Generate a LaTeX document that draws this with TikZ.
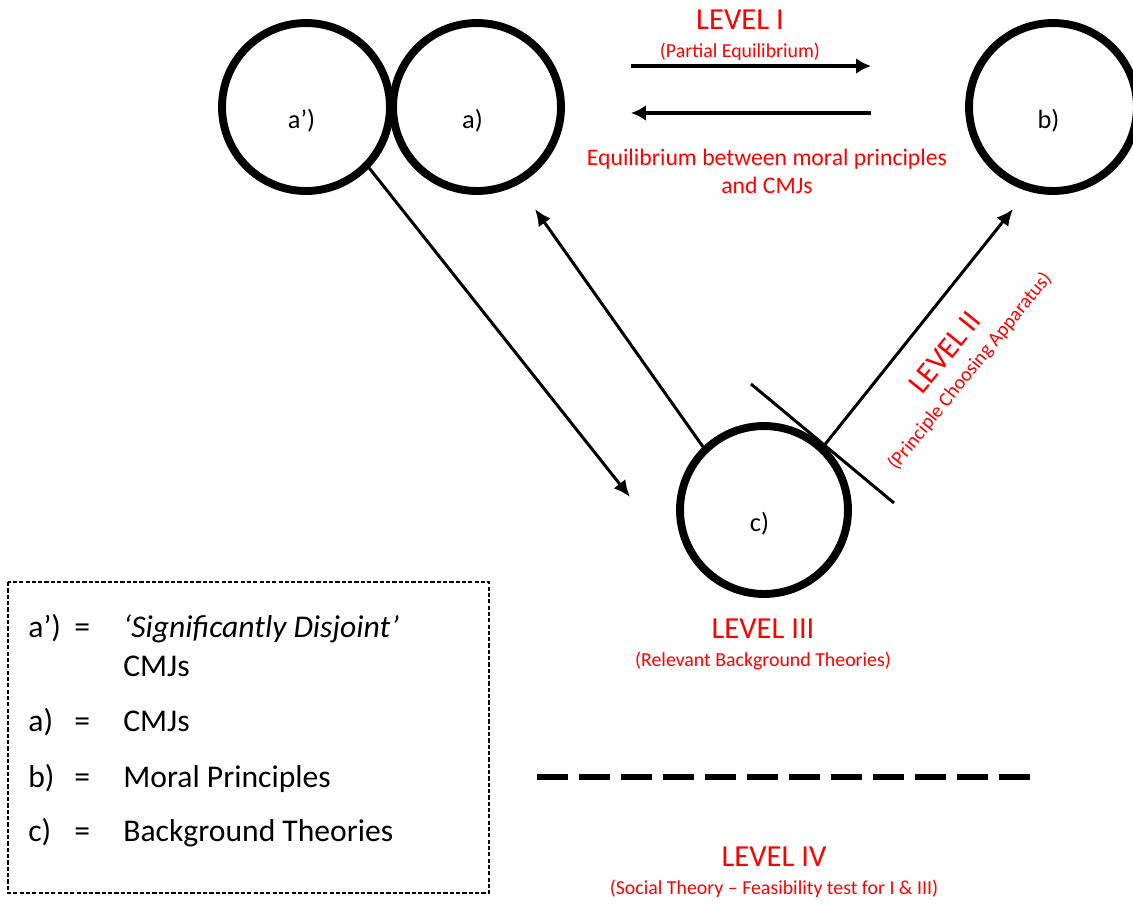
\documentclass[tikz,border=0pt]{standalone}
\usepackage{fontspec}
\setmainfont{Carlito}
\usetikzlibrary{arrows.meta}

\begin{document}
\begin{tikzpicture}[x=0.02cm,y=-0.02cm]
          \tikzstyle{ring}=[draw,circle,line width=4.5pt,minimum size=3.36cm,inner sep=0pt]
          \tikzstyle{ringlabel}=[font=\fontsize{15}{18}\selectfont,xshift=-0.09cm,yshift=-0.28cm]
          \tikzstyle{level}=[text=red,font=\fontsize{17.4}{20}\selectfont]
          \tikzstyle{sublevel}=[text=red,font=\fontsize{11.3}{13}\selectfont]
          \tikzstyle{note}=[text=red,align=center,font=\fontsize{13.5}{15.9}\selectfont]
          \tikzstyle{link}=[line width=1.7pt,-{Latex[length=9.5pt,width=8.5pt]}]
          \tikzstyle{flow}=[line width=2.3pt,-{Latex[length=8.5pt,width=9pt]}]
          \tikzstyle{key}=[anchor=base west,inner sep=0pt,font=\fontsize{18}{22}\selectfont]

          \useasboundingbox (0,0) rectangle (1133,904);

          \node (ap) at (306,107) [ring,label={[ringlabel,name=apl]center:a’)}] {};
          \node (a) at (477,107) [ring,label={[ringlabel,name=al]center:a)}] {};
          \node (b) at (1053,107) [ring,label={[ringlabel,name=bl]center:b)}] {};
          \node (c) at (764,510) [ring,label={[ringlabel,name=cl]center:c)}] {};

          \coordinate (flowL1) at (631,66);
          \coordinate (flowR1) at (871,66);
          \coordinate (flowL2) at (631,113);
          \coordinate (flowR2) at (871,113);
          \coordinate (ctip) at (630,497);
          \coordinate (atip) at (535,209);
          \coordinate (btip) at (1013,209);
          \coordinate (tan1) at (751,384);
          \coordinate (tan2) at (894,503);
          \coordinate (cut1) at (537,777);
          \coordinate (cut2) at (1033,777);

          \draw[flow] (flowL1) -- (flowR1);
          \draw[flow] (flowR2) -- (flowL2);
          \draw[link] (ap.-44) -- (ctip);
          \draw[link] (c.134) -- (atip);
          \draw[link] (c.47) -- (btip);
          \draw[line width=1.7pt] (tan1) -- (tan2);
          \draw[line width=3.4pt,dash pattern=on 0.62cm off 0.22cm] (cut1) -- (cut2);

          \node (lvl1) at (740,20) [level] {LEVEL I};
          \node (lvl1sub) at (740,52) [sublevel] {(Partial Equilibrium)};
          \node (lvl1note) at (767,171) [note] {Equilibrium between moral principles\\and CMJs};
          \node (lvl2) at (945,352) [level,rotate=51] {LEVEL II};
          \node (lvl2sub) at (970,371) [sublevel,rotate=51] {(Principle Choosing Apparatus)};
          \node (lvl3) at (763,629) [level] {LEVEL III};
          \node (lvl3sub) at (763,661) [sublevel] {(Relevant Background Theories)};
          \node (lvl4) at (774,857) [level] {LEVEL IV};
          \node (lvl4sub) at (774,889) [sublevel] {(Social Theory -- Feasibility test for I \& III)};

          % key
          \draw[line width=0.8pt,dash pattern=on 2.4pt off 1.2pt] (8,582) rectangle (489,893);
          \node (k1) at (28,637) [key] {a’)};
          \node (k1eq) at (74,637) [key] {=};
          \node (k1txt) at (123,637) [key] {\textit{‘Significantly Disjoint’}};
          \node (k1more) at (123,676) [key] {CMJs};
          \node (k2) at (28,731) [key] {a)};
          \node (k2eq) at (74,731) [key] {=};
          \node (k2txt) at (123,731) [key] {CMJs};
          \node (k3) at (28,787) [key] {b)};
          \node (k3eq) at (74,787) [key] {=};
          \node (k3txt) at (123,787) [key] {Moral Principles};
          \node (k4) at (28,841) [key] {c)};
          \node (k4eq) at (74,841) [key] {=};
          \node (k4txt) at (123,841) [key] {Background Theories};
        \end{tikzpicture}
\end{document}
